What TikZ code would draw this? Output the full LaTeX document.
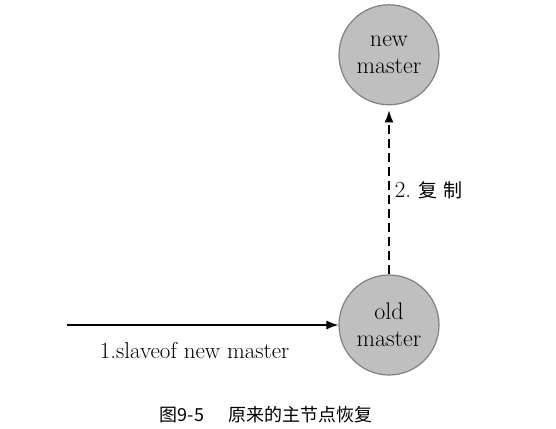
\documentclass[tikz,border=0pt]{standalone}
\usepackage{fontspec}
\newfontfamily\cjk{Noto Sans CJK SC}
\usetikzlibrary{arrows.meta, positioning}

\begin{document}
\begin{tikzpicture}[x=1pt, y=-1pt, master/.style={circle, draw=black!50, fill=black!25, line width=1.2pt, minimum size=100pt, inner sep=0pt, align=center, font=\fontsize{24}{27}\selectfont}, ->, >={Latex[length=12pt,width=9pt]}, line width=1.2pt, node distance=169pt]
        \useasboundingbox (0,0) rectangle (556,428);
        \node[master] (old) at (389,325) {old\\master};
        \node[master, above=of old] (new) {new\\master};
        \coordinate (start) at (67,325);
        \draw (start) -- node[pos=0.47, below=13pt, font=\fontsize{23}{27}\selectfont] {1.slaveof new master} (old);
        \draw[dash pattern=on 9pt off 5pt, shorten >=5pt] (old) -- node[right=2pt, font=\fontsize{23}{27}\selectfont] {2.\ {\cjk\fontsize{19}{24}\selectfont 复\hspace{6pt}制}} (new);
        \node[font=\cjk\fontsize{18}{21}\selectfont] (cap) at (266,415) {图9-5\hspace{24pt}原来的主节点恢复};
    \end{tikzpicture}
\end{document}
